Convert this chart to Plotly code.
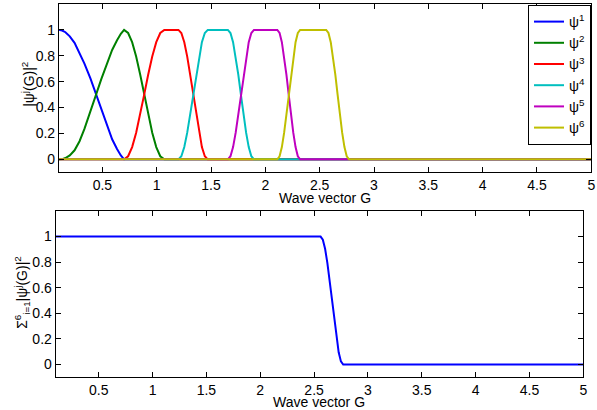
import plotly.graph_objects as go

# ---- data ----
x1 = [0.10, 0.13, 0.16, 0.20, 0.244, 0.29, 0.335, 0.39, 0.442, 0.49, 0.54, 0.59, 0.635, 0.67, 0.70, 5.0]
y1 = [1.0, 0.995, 0.982, 0.95, 0.90, 0.825, 0.74, 0.625, 0.5, 0.38, 0.26, 0.155, 0.08, 0.03, 0.0, 0.0]

x2 = [0.10, 0.13, 0.16, 0.20, 0.244, 0.29, 0.335, 0.39, 0.442, 0.49, 0.54, 0.59, 0.635, 0.67, 0.70,
      0.737, 0.774, 0.811, 0.848, 0.885, 0.922, 0.959, 0.996, 1.033, 1.07, 5.0]
y2 = [0.0, 0.002, 0.01, 0.03, 0.07, 0.14, 0.235, 0.365, 0.5, 0.62, 0.74, 0.845, 0.92, 0.97, 1.0,
      0.976, 0.905, 0.794, 0.655, 0.5, 0.345, 0.206, 0.095, 0.024, 0.0, 0.0]

x3 = [0.10, 0.70, 0.737, 0.774, 0.811, 0.848, 0.885, 0.922, 0.959, 0.996, 1.033, 1.07,
      1.20, 1.227, 1.254, 1.281, 1.308, 1.335, 1.362, 1.389, 1.416, 1.443, 1.47, 5.0]
y3 = [0.0, 0.0, 0.024, 0.095, 0.206, 0.345, 0.5, 0.655, 0.794, 0.905, 0.976, 1.0,
      1.0, 0.976, 0.905, 0.794, 0.655, 0.5, 0.345, 0.206, 0.095, 0.024, 0.0, 0.0]

x4 = [0.10, 1.20, 1.227, 1.254, 1.281, 1.308, 1.335, 1.362, 1.389, 1.416, 1.443, 1.47,
      1.655, 1.679, 1.703, 1.727, 1.751, 1.775, 1.799, 1.823, 1.847, 1.871, 1.895, 5.0]
y4 = [0.0, 0.0, 0.024, 0.095, 0.206, 0.345, 0.5, 0.655, 0.794, 0.905, 0.976, 1.0,
      1.0, 0.976, 0.905, 0.794, 0.655, 0.5, 0.345, 0.206, 0.095, 0.024, 0.0, 0.0]

x5 = [0.10, 1.655, 1.679, 1.703, 1.727, 1.751, 1.775, 1.799, 1.823, 1.847, 1.871, 1.895,
      2.11, 2.131, 2.152, 2.173, 2.194, 2.215, 2.236, 2.257, 2.278, 2.299, 2.32, 5.0]
y5 = [0.0, 0.0, 0.024, 0.095, 0.206, 0.345, 0.5, 0.655, 0.794, 0.905, 0.976, 1.0,
      1.0, 0.976, 0.905, 0.794, 0.655, 0.5, 0.345, 0.206, 0.095, 0.024, 0.0, 0.0]

x6 = [0.10, 2.11, 2.131, 2.152, 2.173, 2.194, 2.215, 2.236, 2.257, 2.278, 2.299, 2.32,
      2.56, 2.581, 2.602, 2.623, 2.644, 2.665, 2.686, 2.707, 2.728, 2.749, 2.77, 5.0]
y6 = [0.0, 0.0, 0.024, 0.095, 0.206, 0.345, 0.5, 0.655, 0.794, 0.905, 0.976, 1.0,
      1.0, 0.976, 0.905, 0.794, 0.655, 0.5, 0.345, 0.206, 0.095, 0.024, 0.0, 0.0]

x_sum = [0.10, 2.56, 2.581, 2.602, 2.623, 2.644, 2.665, 2.686, 2.707, 2.728, 2.749, 2.77, 5.0]
y_sum = [1.0, 1.0, 0.976, 0.905, 0.794, 0.655, 0.5, 0.345, 0.206, 0.095, 0.024, 0.0, 0.0]

names = ["ψ<sup>1</sup>", "ψ<sup>2</sup>", "ψ<sup>3</sup>", "ψ<sup>4</sup>", "ψ<sup>5</sup>", "ψ<sup>6</sup>"]
colors = ["#0000ff", "#008000", "#ff0000", "#00bfbf", "#bf00bf", "#bfbf00"]
xticks = [0.5, 1, 1.5, 2, 2.5, 3, 3.5, 4, 4.5, 5]
yticks = [0, 0.2, 0.4, 0.6, 0.8, 1]

FONT = "Liberation Sans, Arial, Helvetica, sans-serif"
W, H = 597, 410

fig = go.Figure()
series = [(x1, y1), (x2, y2), (x3, y3), (x4, y4), (x5, y5), (x6, y6)]
for (xs, ys), nm, c in zip(series, names, colors):
    fig.add_trace(go.Scatter(x=xs, y=ys, mode="lines", name=nm,
                             line=dict(color=c, width=2), xaxis="x", yaxis="y"))
fig.add_trace(go.Scatter(x=x_sum, y=y_sum, mode="lines", showlegend=False,
                         line=dict(color="#0000ff", width=2), xaxis="x2", yaxis="y2"))

axis_common = dict(showline=True, linecolor="black", linewidth=1, mirror="ticks",
                   ticks="inside", ticklen=5, tickcolor="black", showgrid=False,
                   zeroline=False, tickfont=dict(family=FONT, size=14, color="black"))

fig.update_layout(
    width=W, height=H,
    margin=dict(l=0, r=0, t=0, b=0),
    paper_bgcolor="white", plot_bgcolor="white",
    font=dict(family=FONT, size=14, color="black"),
    xaxis=dict(domain=[59.3 / W, 595.3 / W], range=[0.1, 5], tickvals=xticks,
               anchor="y", **axis_common),
    yaxis=dict(domain=[1 - 172.3 / H, 1 - 4 / H], range=[-0.1, 1.2], tickvals=yticks,
               anchor="x", **axis_common),
    xaxis2=dict(domain=[56 / W, 587.3 / W], range=[0.1, 5], tickvals=xticks,
                anchor="y2", **axis_common),
    yaxis2=dict(domain=[1 - 377.3 / H, 1 - 211 / H], range=[-0.1, 1.2], tickvals=yticks,
                anchor="x2", **axis_common),
    legend=dict(x=595 / W, xanchor="right", y=1 - 5 / H, yanchor="top",
                bordercolor="black", borderwidth=1, bgcolor="white",
                font=dict(family=FONT, size=14, color="black"),
                itemwidth=30, tracegroupgap=0),
    showlegend=True,
)

annotations = [
    dict(text="Wave vector G", x=327.3 / W, y=1 - 198 / H, xref="paper", yref="paper",
         showarrow=False, xanchor="center", yanchor="middle"),
    dict(text="Wave vector G", x=321.6 / W, y=1 - 402 / H, xref="paper", yref="paper",
         showarrow=False, xanchor="center", yanchor="middle"),
    dict(text="|ψ<sup>j</sup>(G)|<sup>2</sup>", x=28 / W, y=1 - 84 / H, xref="paper",
         yref="paper", showarrow=False, textangle=-90, xanchor="center", yanchor="middle"),
    dict(text="Σ<sup>6</sup><sub>i=1</sub>|ψ<sup>j</sup>(G)|<sup>2</sup>", x=22 / W,
         y=1 - 292 / H, xref="paper", yref="paper", showarrow=False, textangle=-90,
         xanchor="center", yanchor="middle"),
]
fig.update_layout(annotations=annotations)

fig.write_html("out.html", config={"displayModeBar": False})

# remove the default page margin so the figure sits at the window's top-left corner
with open("out.html", "r", encoding="utf-8") as f:
    html = f.read()
html = html.replace("<head>", "<head><style>html,body{margin:0;padding:0;overflow:hidden;}</style>", 1)
with open("out.html", "w", encoding="utf-8") as f:
    f.write(html)
